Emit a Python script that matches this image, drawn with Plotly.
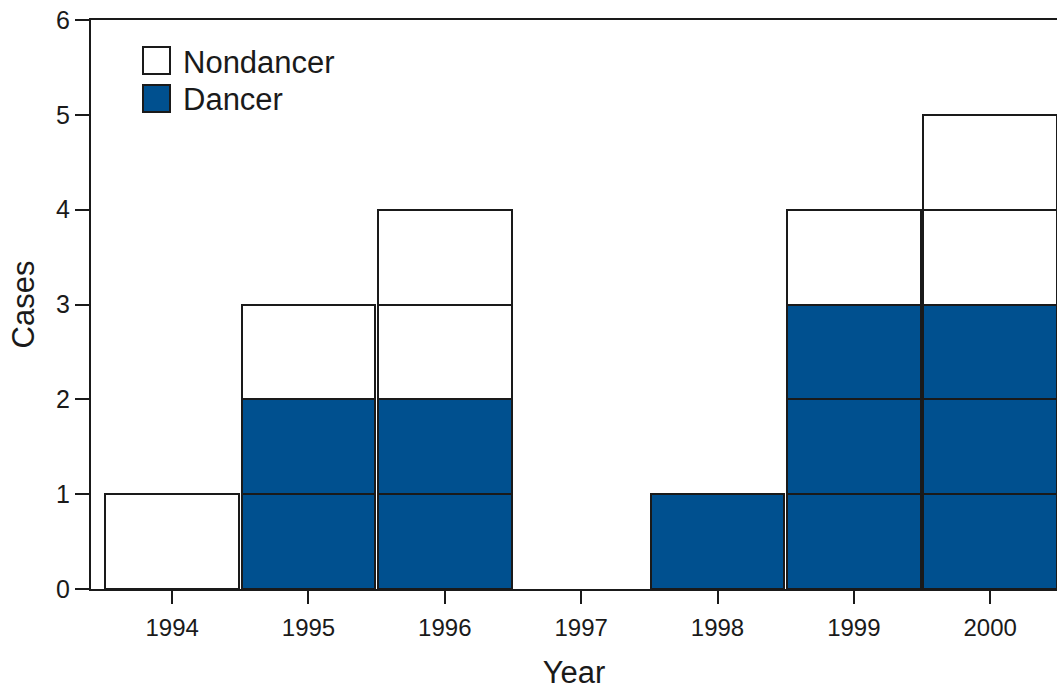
import plotly.graph_objects as go

years = [1994, 1995, 1996, 1997, 1998, 1999, 2000]
dancer = [0, 2, 2, 0, 1, 3, 3]
nondancer = [1, 1, 2, 0, 0, 1, 2]
y_ticks = [0, 1, 2, 3, 4, 5, 6]

DANCER_COLOR = "#00508f"
EDGE = "#1a1a1a"
FONT = "Liberation Sans, Arial, sans-serif"

# each case is drawn as its own unit box, stacked per year
d_x, d_base, n_x, n_base = [], [], [], []
for yr, d, n in zip(years, dancer, nondancer):
    for k in range(d):
        d_x.append(yr)
        d_base.append(k)
    for k in range(n):
        n_x.append(yr)
        n_base.append(d + k)

fig = go.Figure()
fig.add_trace(go.Bar(x=d_x, y=[1] * len(d_x), base=d_base, width=0.98,
                     name="Dancer", marker=dict(color=DANCER_COLOR, line=dict(color=EDGE, width=2)),
                     showlegend=False))
fig.add_trace(go.Bar(x=n_x, y=[1] * len(n_x), base=n_base, width=0.98,
                     name="Nondancer", marker=dict(color="white", line=dict(color=EDGE, width=2)),
                     showlegend=False))

# manual legend (large square swatches)
legend_items = [("Nondancer", "white"), ("Dancer", DANCER_COLOR)]
for i, (label, col) in enumerate(legend_items):
    y0 = 47 + i * 38
    fig.add_shape(type="rect", xref="paper", yref="paper",
                  x0=(143 - 91) / 966, x1=(170 - 91) / 966,
                  y0=(589 - y0 - 27) / 569, y1=(589 - y0) / 569,
                  line=dict(color=EDGE, width=2), fillcolor=col)
    fig.add_annotation(xref="paper", yref="paper", x=(181 - 91) / 966, y=(589 - y0 - 15) / 569,
                       text=label, showarrow=False, xanchor="left", yanchor="middle",
                       font=dict(family=FONT, size=31, color="#1a1a1a"))

fig.update_layout(
    width=1057, height=690,
    margin=dict(l=91, r=0, t=20, b=101),
    paper_bgcolor="white", plot_bgcolor="white",
    barmode="overlay",
    bargap=0,
    font=dict(family=FONT, color="#1a1a1a"),
    xaxis=dict(range=[1993.405, 2000.49], tickvals=years, ticktext=[str(y) for y in years],
               showline=True, linecolor=EDGE, linewidth=2, mirror=True,
               ticks="outside", ticklen=13, tickwidth=2, tickcolor=EDGE,
               showgrid=False, zeroline=False, ticklabelstandoff=3, automargin=False,
               tickfont=dict(size=24, family=FONT),
               title=dict(text="Year", font=dict(size=31, family=FONT), standoff=34)),
    yaxis=dict(range=[0, 6], tickvals=y_ticks,
               showline=True, linecolor=EDGE, linewidth=2,
               ticks="outside", ticklen=14, tickwidth=2, tickcolor=EDGE,
               showgrid=False, zeroline=False, automargin=False,
               tickfont=dict(size=25, family=FONT),
               title=dict(text="Cases", font=dict(size=31, family=FONT), standoff=12)),
)

fig.write_html("out.html", config={"displayModeBar": False},
               post_script="document.body.style.margin='0';")
